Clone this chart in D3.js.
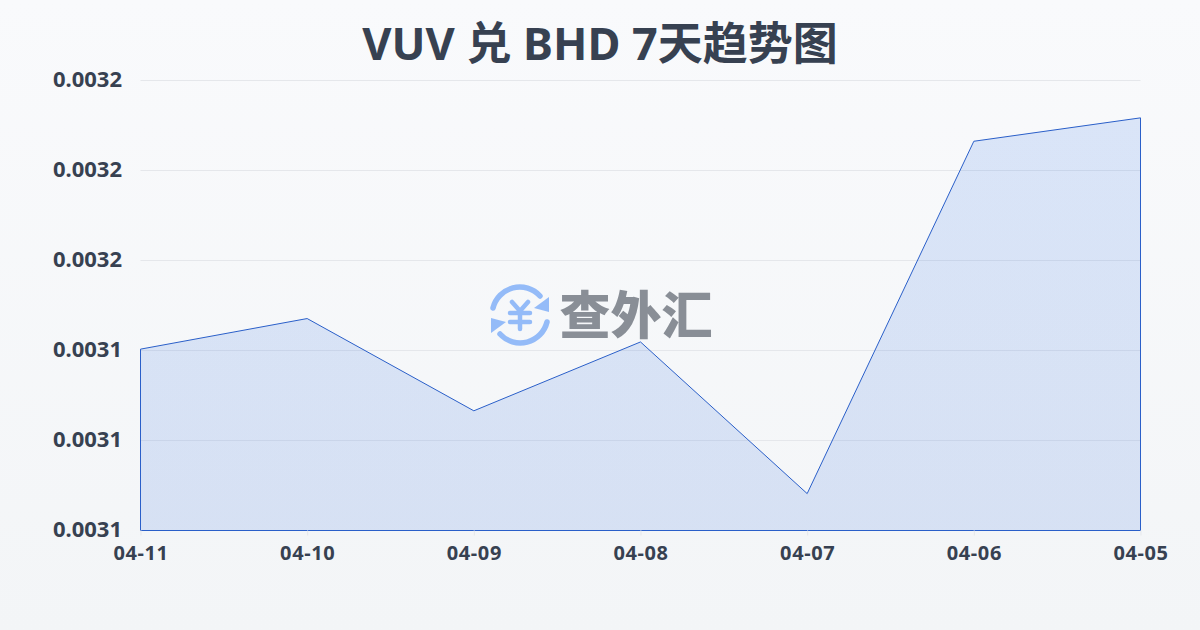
<!DOCTYPE html>
<html><head><meta charset="utf-8">
<script src="https://cdnjs.cloudflare.com/ajax/libs/d3/7.8.5/d3.min.js"></script>
<style>html,body{margin:0;padding:0;width:1200px;height:630px;overflow:hidden}svg{display:block}</style>
</head><body><div id="chart"></div>
<script>
const titleText = "VUV 兑 BHD 7天趋势图";
const categories = ["04-11","04-10","04-09","04-08","04-07","04-06","04-05"];
const rates = [0.0031403,0.0031471,0.0031266,0.0031419,0.0031082,0.0031865,0.0031917];
const yDomain = [0.0031,0.0032];
const yTicks = [0.0031,0.00312,0.00314,0.00316,0.00318,0.0032];
const watermarkText = "查外汇";

const W=1200,H=630,m={l:140.5,r:1140.5,t:80.5,b:530.5};
const font='"Noto Sans","Noto Sans CJK SC",sans-serif';
const svg=d3.select("#chart").append("svg").attr("width",W).attr("height",H);
const defs=svg.append("defs");
const bg=defs.append("linearGradient").attr("id","bg").attr("x1",0).attr("y1",0).attr("x2",0).attr("y2",1);
bg.append("stop").attr("offset",0).attr("stop-color","#f9fafc");
bg.append("stop").attr("offset",1).attr("stop-color","#f3f5f7");
const ag=defs.append("linearGradient").attr("id","ag").attr("x1",0).attr("y1",0).attr("x2",0).attr("y2",1);
ag.append("stop").attr("offset",0).attr("stop-color","#2f72e6").attr("stop-opacity",.15);
ag.append("stop").attr("offset",1).attr("stop-color","#2f6adb").attr("stop-opacity",.15);
svg.append("rect").attr("width",W).attr("height",H).attr("fill","url(#bg)");

const x=d3.scalePoint().domain(categories).range([m.l,m.r]);
const y=d3.scaleLinear().domain(yDomain).range([m.b,m.t]);

svg.append("text").attr("x",600).attr("y",60).attr("text-anchor","middle")
  .attr("font-family",'"Noto Sans","Noto Sans CJK SC",sans-serif').attr("font-weight",700)
  .attr("font-size",45).attr("fill","#374151").text(titleText);

// grid
svg.append("g").selectAll("line").data(yTicks).join("line")
  .attr("x1",m.l).attr("x2",m.r).attr("y1",d=>y(d)).attr("y2",d=>y(d))
  .attr("stroke","#e5e7eb").attr("stroke-width",1);

// area + line
const area=d3.area().x((d,i)=>x(categories[i])).y0(m.b).y1(d=>y(d));
svg.append("path").datum(rates).attr("d",area).attr("fill","url(#ag)")
  .attr("stroke","#2a5fc9").attr("stroke-width",1);

// axes
const ay=d3.axisLeft(y).tickValues(yTicks).tickFormat(d3.format(".4f")).tickSize(0).tickPadding(0);
const gy=svg.append("g").attr("transform",`translate(122,0)`).call(ay);
gy.select(".domain").remove();
gy.selectAll("text").attr("font-family",font).attr("font-weight",700).attr("font-size",22).attr("fill","#374151").attr("dy",0).attr("dominant-baseline","auto").attr("y",0).attr("transform","translate(0,6)");

const ax=d3.axisBottom(x).tickSize(5).tickPadding(10);
const gx=svg.append("g").attr("transform",`translate(0,${m.b})`).call(ax);
gx.select(".domain").remove();
gx.selectAll("line").attr("stroke","#e5e7eb");
gx.selectAll("text").attr("font-family",font).attr("font-weight",700).attr("font-size",20).attr("letter-spacing",0.6).attr("fill","#374151");

// watermark
const wm=svg.append("g").attr("pointer-events","none");
const ic=wm.append("g").attr("transform","translate(520,315)").attr("fill","none").attr("stroke","#94bbf8").attr("stroke-width",5.5).attr("stroke-linecap","round").attr("stroke-linejoin","round");
ic.append("path").attr("d","M-27,-7 A27.5,27.5 0 0 1 20,-19");
ic.append("path").attr("d","M27,7 A27.5,27.5 0 0 1 -20,19");
ic.append("path").attr("fill","#94bbf8").attr("stroke","none").attr("d","M29,-18 L29,-3 L14,-7 Z");
ic.append("path").attr("fill","#94bbf8").attr("stroke","none").attr("d","M-29,18 L-29,3 L-14,7 Z");
ic.append("path").attr("stroke-width",4.5).attr("d","M-8,-13 L0,-4 L8,-13 M-10,-2 H10 M-10,7 H10 M0,-4 V14");
wm.append("text").attr("x",636).attr("y",334).attr("text-anchor","middle")
  .attr("font-family",'"Noto Sans CJK SC",sans-serif').attr("font-weight",900).attr("font-size",51)
  .attr("fill","#898e96").text(watermarkText);
</script></body></html>
